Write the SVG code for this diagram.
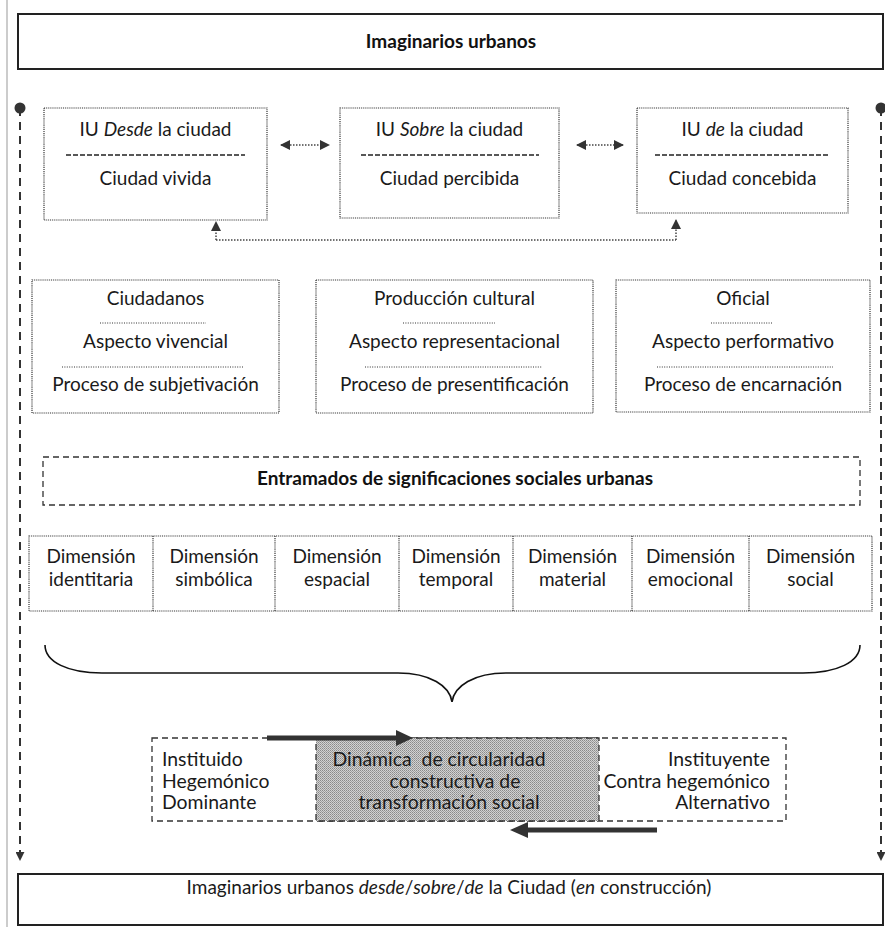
<svg xmlns="http://www.w3.org/2000/svg" width="885" height="927" viewBox="0 0 885 927">
<style>
text{font-family:Lato,"Open Sans","Liberation Sans",sans-serif;fill:#1a1a1a;}
.t{font-size:19px;text-anchor:middle;}
.s{font-size:19.4px;}
.b{font-weight:bold;fill:#111;}
.dot{fill:none;stroke:#333;stroke-width:1.2;stroke-dasharray:1 0.9;}
.sep{stroke:#333;stroke-width:1;stroke-dasharray:1 1.4;}
.hy{stroke:#222;stroke-width:1.3;stroke-dasharray:5 2;}
.dash{fill:none;stroke:#333;stroke-width:1.3;stroke-dasharray:6 4;}
.solid{fill:#fff;stroke:#222;stroke-width:2;}
.side{stroke:#333;stroke-width:2;stroke-dasharray:8 6;fill:none;}
.con{fill:none;stroke:#444;stroke-width:1.5;stroke-dasharray:1.5 1.5;}
.thick{stroke:#333;stroke-width:5;fill:none;}
</style>
<defs>
<marker id="ah" viewBox="0 0 10 10" refX="9" refY="5" markerWidth="10" markerHeight="10" markerUnits="userSpaceOnUse" orient="auto-start-reverse">
<path d="M0,0 L10,5 L0,10 Z" fill="#333"/>
</marker>
<marker id="sa" viewBox="0 0 10 10" refX="9" refY="5" markerWidth="9" markerHeight="9" markerUnits="userSpaceOnUse" orient="auto">
<path d="M0,0 L10,5 L0,10 Z" fill="#333"/>
</marker>
<pattern id="stip" width="2" height="2" patternUnits="userSpaceOnUse">
<rect width="2" height="2" fill="#d2d2d2"/>
<rect width="1" height="1" fill="#8a8a8a"/>
<rect x="1" y="1" width="1" height="1" fill="#a0a0a0"/>
</pattern>
</defs>

<line x1="7" y1="0" x2="7" y2="927" stroke="#999" stroke-width="1"/>

<g id="top">
<rect class="solid" x="18" y="14" width="865" height="55"/>
<text class="t b" x="451" y="48" font-size="20.5">Imaginarios urbanos</text>
</g>

<g id="connectors">
<line class="side" x1="20" y1="108" x2="20" y2="860" marker-end="url(#sa)"/>
<circle cx="20" cy="108" r="5.5" fill="#333"/>
<line class="side" x1="881" y1="108" x2="881" y2="860" marker-end="url(#sa)"/>
<circle cx="881" cy="108" r="5.5" fill="#333"/>
<line class="con" x1="281" y1="145" x2="329" y2="145" marker-start="url(#ah)" marker-end="url(#ah)"/>
<line class="con" x1="577" y1="145" x2="623" y2="145" marker-start="url(#ah)" marker-end="url(#ah)"/>
<path class="con" d="M216,240 H676"/>
<line class="con" x1="216" y1="240" x2="216" y2="222" marker-end="url(#ah)"/>
<line class="con" x1="676" y1="240" x2="676" y2="220" marker-end="url(#ah)"/>
<path d="M45,645 C45,662 68,673 102,673 H398 C430,673 450,686 452,702 C454,686 474,673 506,673 H803 C837,673 860,662 860,645" fill="none" stroke="#111" stroke-width="1.6"/>
</g>

<g id="desde">
<rect class="dot" x="44" y="108" width="223" height="112"/>
<text class="t" x="155.5" y="136">IU <tspan font-style="italic">Desde</tspan> la ciudad</text>
<line class="hy" x1="66" y1="155" x2="245" y2="155"/>
<text class="t" x="155.5" y="185">Ciudad vivida</text>
</g>
<g id="sobre">
<rect class="dot" x="340" y="108" width="219" height="110"/>
<text class="t" x="449.5" y="136">IU <tspan font-style="italic">Sobre</tspan> la ciudad</text>
<line class="hy" x1="361" y1="155" x2="539" y2="155"/>
<text class="t" x="449.5" y="185">Ciudad percibida</text>
</g>
<g id="de">
<rect class="dot" x="637" y="108" width="211" height="105"/>
<text class="t" x="742.5" y="136">IU <tspan font-style="italic">de</tspan> la ciudad</text>
<line class="hy" x1="655" y1="155" x2="828" y2="155"/>
<text class="t" x="742.5" y="185">Ciudad concebida</text>
</g>

<g id="ciudadanos">
<rect class="dot" x="32" y="280" width="247" height="133"/>
<text class="t" x="155.5" y="305">Ciudadanos</text>
<line class="sep" x1="100" y1="323" x2="206" y2="323"/>
<text class="t" x="155.5" y="348">Aspecto vivencial</text>
<line class="sep" x1="62" y1="367" x2="243" y2="367"/>
<text class="t" x="155.5" y="391">Proceso de subjetivación</text>
</g>
<g id="produccion">
<rect class="dot" x="316" y="280" width="277" height="133"/>
<text class="t" x="454.5" y="305">Producción cultural</text>
<line class="sep" x1="403" y1="323" x2="495" y2="323"/>
<text class="t" x="454.5" y="348">Aspecto representacional</text>
<line class="sep" x1="365" y1="367" x2="542" y2="367"/>
<text class="t" x="454.5" y="391">Proceso de presentificación</text>
</g>
<g id="oficial">
<rect class="dot" x="616" y="280" width="254" height="132"/>
<text class="t" x="743" y="305">Oficial</text>
<line class="sep" x1="711" y1="323" x2="772" y2="323"/>
<text class="t" x="743" y="348">Aspecto performativo</text>
<line class="sep" x1="657" y1="367" x2="833" y2="367"/>
<text class="t" x="743" y="391">Proceso de encarnación</text>
</g>

<g id="entramados">
<rect class="dash" x="43" y="457" width="817" height="48"/>
<text class="t b" x="455" y="485" font-size="21">Entramados de significaciones sociales urbanas</text>
</g>

<g id="dimensiones">
<rect class="dot" x="29" y="536" width="843" height="75"/>
<line class="dot" x1="153" y1="536" x2="153" y2="611"/>
<line class="dot" x1="275" y1="536" x2="275" y2="611"/>
<line class="dot" x1="399" y1="536" x2="399" y2="611"/>
<line class="dot" x1="513" y1="536" x2="513" y2="611"/>
<line class="dot" x1="632" y1="536" x2="632" y2="611"/>
<line class="dot" x1="749" y1="536" x2="749" y2="611"/>
<text class="t" x="91" y="563">Dimensión</text><text class="t" x="91" y="586">identitaria</text>
<text class="t" x="214" y="563">Dimensión</text><text class="t" x="214" y="586">simbólica</text>
<text class="t" x="337" y="563">Dimensión</text><text class="t" x="337" y="586">espacial</text>
<text class="t" x="456" y="563">Dimensión</text><text class="t" x="456" y="586">temporal</text>
<text class="t" x="572.5" y="563">Dimensión</text><text class="t" x="572.5" y="586">material</text>
<text class="t" x="690.5" y="563">Dimensión</text><text class="t" x="690.5" y="586">emocional</text>
<text class="t" x="810.5" y="563">Dimensión</text><text class="t" x="810.5" y="586">social</text>
</g>

<g id="dinamica">
<rect class="dash" x="152" y="738" width="634" height="83"/>
<rect x="316" y="738" width="283" height="83" fill="url(#stip)" stroke="#333" stroke-width="1.3" stroke-dasharray="6 4"/>
<text class="s" x="162" y="766">Instituido</text>
<text class="s" x="162" y="788">Hegemónico</text>
<text class="s" x="162" y="809">Dominante</text>
<text class="t s" x="439" y="766" xml:space="preserve">Dinámica  de circularidad</text>
<text class="t s" x="455" y="788">constructiva de</text>
<text class="t s" x="449" y="809">transformación social</text>
<text class="s" x="770" y="766" text-anchor="end">Instituyente</text>
<text class="s" x="770" y="788" text-anchor="end">Contra hegemónico</text>
<text class="s" x="770" y="809" text-anchor="end">Alternativo</text>
<line class="thick" x1="267" y1="738" x2="398" y2="738"/>
<path d="M396,730 L413,738 L396,746 Z" fill="#333"/>
<line class="thick" x1="657" y1="830" x2="526" y2="830"/>
<path d="M528,822 L510,830 L528,838 Z" fill="#333"/>
</g>

<g id="bottom">
<rect class="solid" x="18" y="874" width="865" height="51"/>
<text class="t" x="449" y="894" font-size="17">Imaginarios urbanos <tspan font-style="italic">desde</tspan>/<tspan font-style="italic">sobre</tspan>/<tspan font-style="italic">de</tspan> la Ciudad (<tspan font-style="italic">en</tspan> construcción)</text>
</g>
</svg>
